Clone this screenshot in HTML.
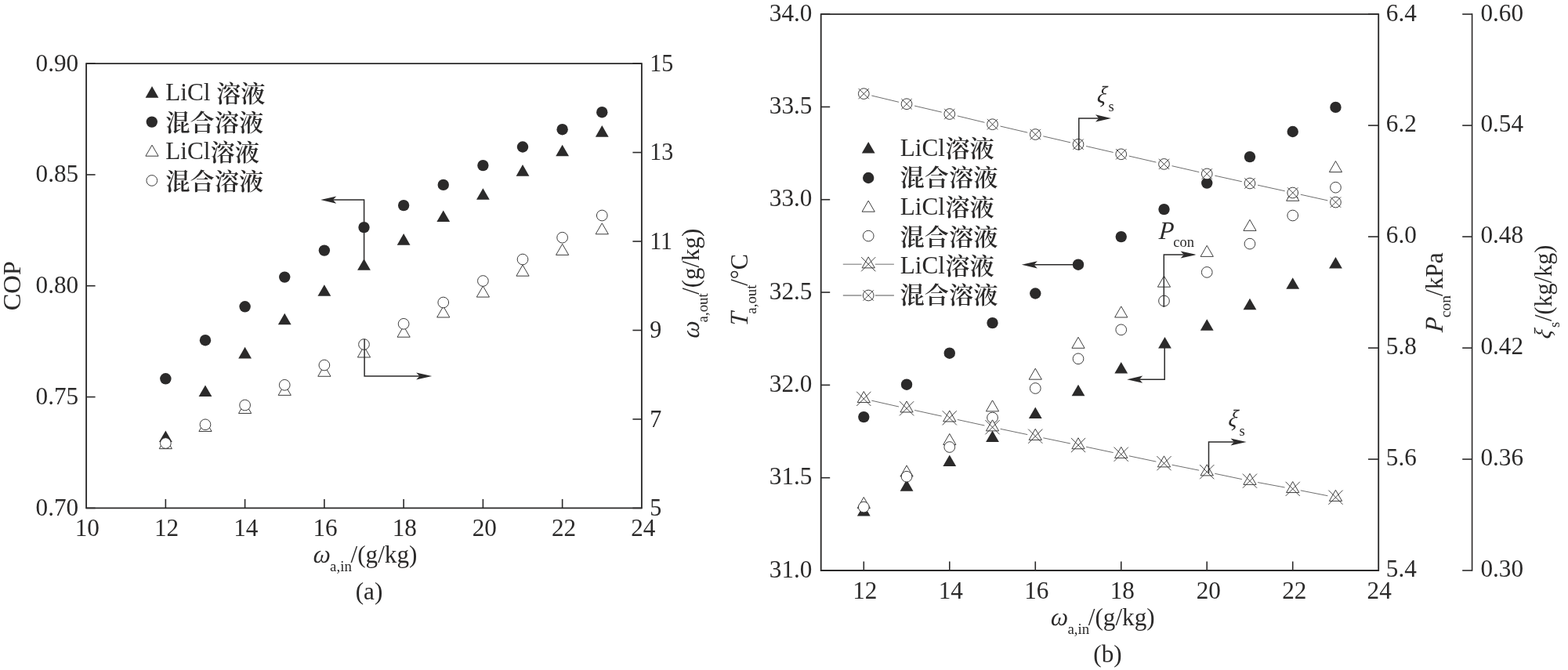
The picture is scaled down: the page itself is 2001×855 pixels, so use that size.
<!DOCTYPE html>
<html lang="zh-CN">
<head>
<meta charset="utf-8">
<title>COP and outlet parameters versus inlet air humidity</title>
<style>
html,body{margin:0;padding:0;background:#fff;}
body{width:2001px;height:855px;overflow:hidden;}
svg{display:block;}
text{fill:#2b2a2a;}
</style>
</head>
<body>
<svg width="2001" height="855" viewBox="0 0 2001 855">
<rect x="0" y="0" width="2001" height="855" fill="#ffffff"/>
<path d="M110.1 81.1H818.9V648.4H110.1Z" fill="none" stroke="#2b2a2a" stroke-width="1.85" stroke-linejoin="miter"/>
<line x1="211.36" y1="648.40" x2="211.36" y2="636.90" stroke="#2b2a2a" stroke-width="1.6" />
<line x1="312.61" y1="648.40" x2="312.61" y2="636.90" stroke="#2b2a2a" stroke-width="1.6" />
<line x1="413.87" y1="648.40" x2="413.87" y2="636.90" stroke="#2b2a2a" stroke-width="1.6" />
<line x1="515.13" y1="648.40" x2="515.13" y2="636.90" stroke="#2b2a2a" stroke-width="1.6" />
<line x1="616.39" y1="648.40" x2="616.39" y2="636.90" stroke="#2b2a2a" stroke-width="1.6" />
<line x1="717.64" y1="648.40" x2="717.64" y2="636.90" stroke="#2b2a2a" stroke-width="1.6" />
<line x1="110.10" y1="648.40" x2="121.60" y2="648.40" stroke="#2b2a2a" stroke-width="1.6" />
<text transform="translate(100.20 657.80) scale(0.96 1)" font-size="32.5" text-anchor="end" font-family='"Liberation Serif", serif' >0.70</text>
<line x1="110.10" y1="506.57" x2="121.60" y2="506.57" stroke="#2b2a2a" stroke-width="1.6" />
<text transform="translate(100.20 515.98) scale(0.96 1)" font-size="32.5" text-anchor="end" font-family='"Liberation Serif", serif' >0.75</text>
<line x1="110.10" y1="364.75" x2="121.60" y2="364.75" stroke="#2b2a2a" stroke-width="1.6" />
<text transform="translate(100.20 374.15) scale(0.96 1)" font-size="32.5" text-anchor="end" font-family='"Liberation Serif", serif' >0.80</text>
<line x1="110.10" y1="222.93" x2="121.60" y2="222.93" stroke="#2b2a2a" stroke-width="1.6" />
<text transform="translate(100.20 232.33) scale(0.96 1)" font-size="32.5" text-anchor="end" font-family='"Liberation Serif", serif' >0.85</text>
<line x1="110.10" y1="81.10" x2="121.60" y2="81.10" stroke="#2b2a2a" stroke-width="1.6" />
<text transform="translate(100.20 90.50) scale(0.96 1)" font-size="32.5" text-anchor="end" font-family='"Liberation Serif", serif' >0.90</text>
<line x1="818.90" y1="648.40" x2="807.40" y2="648.40" stroke="#2b2a2a" stroke-width="1.6" />
<text transform="translate(829.20 658.20) scale(0.925 1)" font-size="32.5" text-anchor="start" font-family='"Liberation Serif", serif' >5</text>
<line x1="818.90" y1="534.94" x2="807.40" y2="534.94" stroke="#2b2a2a" stroke-width="1.6" />
<text transform="translate(829.20 544.74) scale(0.925 1)" font-size="32.5" text-anchor="start" font-family='"Liberation Serif", serif' >7</text>
<line x1="818.90" y1="421.48" x2="807.40" y2="421.48" stroke="#2b2a2a" stroke-width="1.6" />
<text transform="translate(829.20 431.28) scale(0.925 1)" font-size="32.5" text-anchor="start" font-family='"Liberation Serif", serif' >9</text>
<line x1="818.90" y1="308.02" x2="807.40" y2="308.02" stroke="#2b2a2a" stroke-width="1.6" />
<text transform="translate(829.20 317.82) scale(0.925 1)" font-size="32.5" text-anchor="start" font-family='"Liberation Serif", serif' >11</text>
<line x1="818.90" y1="194.56" x2="807.40" y2="194.56" stroke="#2b2a2a" stroke-width="1.6" />
<text transform="translate(829.20 204.36) scale(0.925 1)" font-size="32.5" text-anchor="start" font-family='"Liberation Serif", serif' >13</text>
<line x1="818.90" y1="81.10" x2="807.40" y2="81.10" stroke="#2b2a2a" stroke-width="1.6" />
<text transform="translate(829.20 90.90) scale(0.925 1)" font-size="32.5" text-anchor="start" font-family='"Liberation Serif", serif' >15</text>
<text transform="translate(111.30 684.20) scale(0.96 1)" font-size="32.5" text-anchor="middle" font-family='"Liberation Serif", serif' >10</text>
<text transform="translate(212.56 684.20) scale(0.96 1)" font-size="32.5" text-anchor="middle" font-family='"Liberation Serif", serif' >12</text>
<text transform="translate(313.81 684.20) scale(0.96 1)" font-size="32.5" text-anchor="middle" font-family='"Liberation Serif", serif' >14</text>
<text transform="translate(415.07 684.20) scale(0.96 1)" font-size="32.5" text-anchor="middle" font-family='"Liberation Serif", serif' >16</text>
<text transform="translate(516.33 684.20) scale(0.96 1)" font-size="32.5" text-anchor="middle" font-family='"Liberation Serif", serif' >18</text>
<text transform="translate(618.29 684.20) scale(0.96 1)" font-size="32.5" text-anchor="middle" font-family='"Liberation Serif", serif' >20</text>
<text transform="translate(719.54 684.20) scale(0.96 1)" font-size="32.5" text-anchor="middle" font-family='"Liberation Serif", serif' >22</text>
<text transform="translate(820.80 684.20) scale(0.96 1)" font-size="32.5" text-anchor="middle" font-family='"Liberation Serif", serif' >24</text>
<text transform="translate(26.40 364.70) rotate(-90)" font-size="32.5" text-anchor="middle" font-family='"Liberation Serif", serif' >COP</text>
<text transform="translate(399.20 718.00) skewX(-4) scale(0.96 1)" font-size="32.5" text-anchor="start" font-style="italic" font-family='"Liberation Serif", serif' >ω</text>
<text transform="translate(421.10 728.70) scale(1.02 1)" font-size="18.5" text-anchor="start" font-family='"Liberation Serif", serif' >a,in</text>
<text transform="translate(447.50 718.00) scale(0.96 1)" font-size="32.5" text-anchor="start" font-family='"Liberation Serif", serif' >/(g/kg)</text>
<text transform="translate(471.00 764.80) scale(0.96 1)" font-size="32.5" text-anchor="middle" font-family='"Liberation Serif", serif' >(a)</text>
<g transform="translate(892.1 432) rotate(-90)">
<text transform="translate(0.00 0.00) skewX(-4) scale(0.96 1)" font-size="32.5" text-anchor="start" font-style="italic" font-family='"Liberation Serif", serif' >ω</text>
<text transform="translate(20.60 11.30) scale(1.02 1)" font-size="18.5" text-anchor="start" font-family='"Liberation Serif", serif' >a,out</text>
<text transform="translate(56.20 0.00) scale(0.95 1)" font-size="32.5" text-anchor="start" font-family='"Liberation Serif", serif' >/(g/kg)</text>
</g>
<polygon points="211.36,549.45 219.76,564.00 202.96,564.00" fill="#2b2a2a"/>
<polygon points="261.99,491.50 270.39,506.05 253.59,506.05" fill="#2b2a2a"/>
<polygon points="312.61,442.85 321.01,457.40 304.21,457.40" fill="#2b2a2a"/>
<polygon points="363.24,399.65 371.64,414.20 354.84,414.20" fill="#2b2a2a"/>
<polygon points="413.87,363.30 422.27,377.85 405.47,377.85" fill="#2b2a2a"/>
<polygon points="464.50,330.15 472.90,344.70 456.10,344.70" fill="#2b2a2a"/>
<polygon points="515.13,298.10 523.53,312.65 506.73,312.65" fill="#2b2a2a"/>
<polygon points="565.76,268.40 574.16,282.95 557.36,282.95" fill="#2b2a2a"/>
<polygon points="616.39,240.25 624.79,254.80 607.99,254.80" fill="#2b2a2a"/>
<polygon points="667.01,210.10 675.41,224.65 658.61,224.65" fill="#2b2a2a"/>
<polygon points="717.64,184.70 726.04,199.25 709.24,199.25" fill="#2b2a2a"/>
<polygon points="768.27,160.10 776.67,174.65 759.87,174.65" fill="#2b2a2a"/>
<circle cx="211.36" cy="483.30" r="7.2" fill="#2b2a2a"/>
<circle cx="261.99" cy="434.20" r="7.2" fill="#2b2a2a"/>
<circle cx="312.61" cy="391.30" r="7.2" fill="#2b2a2a"/>
<circle cx="363.24" cy="353.60" r="7.2" fill="#2b2a2a"/>
<circle cx="413.87" cy="319.60" r="7.2" fill="#2b2a2a"/>
<circle cx="464.50" cy="290.10" r="7.2" fill="#2b2a2a"/>
<circle cx="515.13" cy="262.10" r="7.2" fill="#2b2a2a"/>
<circle cx="565.76" cy="235.90" r="7.2" fill="#2b2a2a"/>
<circle cx="616.39" cy="211.10" r="7.2" fill="#2b2a2a"/>
<circle cx="667.01" cy="187.50" r="7.2" fill="#2b2a2a"/>
<circle cx="717.64" cy="165.20" r="7.2" fill="#2b2a2a"/>
<circle cx="768.27" cy="143.20" r="7.2" fill="#2b2a2a"/>
<polygon points="211.36,558.65 219.45,572.67 203.26,572.67" fill="#fff" stroke="#333333" stroke-width="0.95" stroke-linejoin="miter"/>
<polygon points="261.99,536.45 270.08,550.47 253.89,550.47" fill="#fff" stroke="#333333" stroke-width="0.95" stroke-linejoin="miter"/>
<polygon points="312.61,513.45 320.71,527.47 304.52,527.47" fill="#fff" stroke="#333333" stroke-width="0.95" stroke-linejoin="miter"/>
<polygon points="363.24,490.35 371.34,504.38 355.15,504.38" fill="#fff" stroke="#333333" stroke-width="0.95" stroke-linejoin="miter"/>
<polygon points="413.87,466.25 421.97,480.28 405.77,480.28" fill="#fff" stroke="#333333" stroke-width="0.95" stroke-linejoin="miter"/>
<polygon points="464.50,441.95 472.60,455.98 456.40,455.98" fill="#fff" stroke="#333333" stroke-width="0.95" stroke-linejoin="miter"/>
<polygon points="515.13,416.15 523.23,430.18 507.03,430.18" fill="#fff" stroke="#333333" stroke-width="0.95" stroke-linejoin="miter"/>
<polygon points="565.76,390.95 573.85,404.98 557.66,404.98" fill="#fff" stroke="#333333" stroke-width="0.95" stroke-linejoin="miter"/>
<polygon points="616.39,365.05 624.48,379.07 608.29,379.07" fill="#fff" stroke="#333333" stroke-width="0.95" stroke-linejoin="miter"/>
<polygon points="667.01,338.15 675.11,352.18 658.92,352.18" fill="#fff" stroke="#333333" stroke-width="0.95" stroke-linejoin="miter"/>
<polygon points="717.64,311.35 725.74,325.38 709.55,325.38" fill="#fff" stroke="#333333" stroke-width="0.95" stroke-linejoin="miter"/>
<polygon points="768.27,284.75 776.37,298.78 760.17,298.78" fill="#fff" stroke="#333333" stroke-width="0.95" stroke-linejoin="miter"/>
<circle cx="211.36" cy="565.50" r="6.85" fill="#fff" stroke="#333333" stroke-width="0.95"/>
<circle cx="261.99" cy="541.80" r="6.85" fill="#fff" stroke="#333333" stroke-width="0.95"/>
<circle cx="312.61" cy="517.00" r="6.85" fill="#fff" stroke="#333333" stroke-width="0.95"/>
<circle cx="363.24" cy="491.30" r="6.85" fill="#fff" stroke="#333333" stroke-width="0.95"/>
<circle cx="413.87" cy="466.00" r="6.85" fill="#fff" stroke="#333333" stroke-width="0.95"/>
<circle cx="464.50" cy="439.50" r="6.85" fill="#fff" stroke="#333333" stroke-width="0.95"/>
<circle cx="515.13" cy="413.30" r="6.85" fill="#fff" stroke="#333333" stroke-width="0.95"/>
<circle cx="565.76" cy="386.00" r="6.85" fill="#fff" stroke="#333333" stroke-width="0.95"/>
<circle cx="616.39" cy="358.50" r="6.85" fill="#fff" stroke="#333333" stroke-width="0.95"/>
<circle cx="667.01" cy="331.00" r="6.85" fill="#fff" stroke="#333333" stroke-width="0.95"/>
<circle cx="717.64" cy="303.20" r="6.85" fill="#fff" stroke="#333333" stroke-width="0.95"/>
<circle cx="768.27" cy="275.00" r="6.85" fill="#fff" stroke="#333333" stroke-width="0.95"/>
<polyline points="464.60,339.85 464.60,255.10 425.00,255.10" fill="none" stroke="#2b2a2a" stroke-width="1.5" stroke-linejoin="miter"/>
<polygon points="409.20,255.10 429.20,250.50 425.00,255.10 429.20,259.70" fill="#2b2a2a"/>
<polyline points="465.10,432.70 465.10,480.00 535.40,480.00" fill="none" stroke="#2b2a2a" stroke-width="1.5" stroke-linejoin="miter"/>
<polygon points="551.20,480.00 531.20,484.60 535.40,480.00 531.20,475.40" fill="#2b2a2a"/>
<polygon points="194.00,110.10 202.40,124.65 185.60,124.65" fill="#2b2a2a"/>
<text transform="translate(211.20 128.00) scale(0.96 1)" font-size="32.5" text-anchor="start" font-family='"Liberation Serif", serif' >LiCl</text>
<text transform="translate(276.00 129.60) scale(1.042 1)" font-size="30" text-anchor="start" font-weight="600" font-family='"Liberation Serif", "Noto Serif CJK SC", serif' >溶液</text>
<circle cx="193.80" cy="155.60" r="7.2" fill="#2b2a2a"/>
<text transform="translate(211.20 167.30) scale(1.042 1)" font-size="30" text-anchor="start" font-weight="600" font-family='"Liberation Serif", "Noto Serif CJK SC", serif' >混合溶液</text>
<polygon points="194.00,185.15 202.10,199.18 185.90,199.18" fill="#fff" stroke="#333333" stroke-width="0.95" stroke-linejoin="miter"/>
<text transform="translate(211.20 202.70) scale(0.96 1)" font-size="32.5" text-anchor="start" font-family='"Liberation Serif", serif' >LiCl</text>
<text transform="translate(268.60 204.60) scale(1.042 1)" font-size="30" text-anchor="start" font-weight="600" font-family='"Liberation Serif", "Noto Serif CJK SC", serif' >溶液</text>
<circle cx="193.80" cy="230.40" r="6.85" fill="#fff" stroke="#333333" stroke-width="0.95"/>
<text transform="translate(211.20 242.30) scale(1.042 1)" font-size="30" text-anchor="start" font-weight="600" font-family='"Liberation Serif", "Noto Serif CJK SC", serif' >混合溶液</text>
<path d="M1047.7 18.1H1759.2V728.0H1047.7Z" fill="none" stroke="#2b2a2a" stroke-width="1.85" stroke-linejoin="miter"/>
<line x1="1878.60" y1="17.30" x2="1878.60" y2="728.80" stroke="#2b2a2a" stroke-width="1.6" />
<line x1="1102.30" y1="728.00" x2="1102.30" y2="716.50" stroke="#2b2a2a" stroke-width="1.6" />
<text transform="translate(1103.80 763.90) scale(0.96 1)" font-size="32.5" text-anchor="middle" font-family='"Liberation Serif", serif' >12</text>
<line x1="1211.78" y1="728.00" x2="1211.78" y2="716.50" stroke="#2b2a2a" stroke-width="1.6" />
<text transform="translate(1213.28 763.90) scale(0.96 1)" font-size="32.5" text-anchor="middle" font-family='"Liberation Serif", serif' >14</text>
<line x1="1321.27" y1="728.00" x2="1321.27" y2="716.50" stroke="#2b2a2a" stroke-width="1.6" />
<text transform="translate(1322.77 763.90) scale(0.96 1)" font-size="32.5" text-anchor="middle" font-family='"Liberation Serif", serif' >16</text>
<line x1="1430.75" y1="728.00" x2="1430.75" y2="716.50" stroke="#2b2a2a" stroke-width="1.6" />
<text transform="translate(1432.25 763.90) scale(0.96 1)" font-size="32.5" text-anchor="middle" font-family='"Liberation Serif", serif' >18</text>
<line x1="1540.23" y1="728.00" x2="1540.23" y2="716.50" stroke="#2b2a2a" stroke-width="1.6" />
<text transform="translate(1542.23 763.90) scale(0.96 1)" font-size="32.5" text-anchor="middle" font-family='"Liberation Serif", serif' >20</text>
<line x1="1649.72" y1="728.00" x2="1649.72" y2="716.50" stroke="#2b2a2a" stroke-width="1.6" />
<text transform="translate(1651.72 763.90) scale(0.96 1)" font-size="32.5" text-anchor="middle" font-family='"Liberation Serif", serif' >22</text>
<text transform="translate(1760.20 763.90) scale(0.96 1)" font-size="32.5" text-anchor="middle" font-family='"Liberation Serif", serif' >24</text>
<line x1="1047.70" y1="728.00" x2="1059.20" y2="728.00" stroke="#2b2a2a" stroke-width="1.6" />
<text transform="translate(1036.40 736.60) scale(0.96 1)" font-size="32.5" text-anchor="end" font-family='"Liberation Serif", serif' >31.0</text>
<line x1="1047.70" y1="609.68" x2="1059.20" y2="609.68" stroke="#2b2a2a" stroke-width="1.6" />
<text transform="translate(1036.40 618.28) scale(0.96 1)" font-size="32.5" text-anchor="end" font-family='"Liberation Serif", serif' >31.5</text>
<line x1="1047.70" y1="491.37" x2="1059.20" y2="491.37" stroke="#2b2a2a" stroke-width="1.6" />
<text transform="translate(1036.40 499.97) scale(0.96 1)" font-size="32.5" text-anchor="end" font-family='"Liberation Serif", serif' >32.0</text>
<line x1="1047.70" y1="373.05" x2="1059.20" y2="373.05" stroke="#2b2a2a" stroke-width="1.6" />
<text transform="translate(1036.40 381.65) scale(0.96 1)" font-size="32.5" text-anchor="end" font-family='"Liberation Serif", serif' >32.5</text>
<line x1="1047.70" y1="254.73" x2="1059.20" y2="254.73" stroke="#2b2a2a" stroke-width="1.6" />
<text transform="translate(1036.40 263.33) scale(0.96 1)" font-size="32.5" text-anchor="end" font-family='"Liberation Serif", serif' >33.0</text>
<line x1="1047.70" y1="136.42" x2="1059.20" y2="136.42" stroke="#2b2a2a" stroke-width="1.6" />
<text transform="translate(1036.40 145.02) scale(0.96 1)" font-size="32.5" text-anchor="end" font-family='"Liberation Serif", serif' >33.5</text>
<line x1="1047.70" y1="18.10" x2="1059.20" y2="18.10" stroke="#2b2a2a" stroke-width="1.6" />
<text transform="translate(1036.40 26.70) scale(0.96 1)" font-size="32.5" text-anchor="end" font-family='"Liberation Serif", serif' >34.0</text>
<line x1="1759.20" y1="728.00" x2="1746.00" y2="728.00" stroke="#2b2a2a" stroke-width="1.6" />
<text transform="translate(1768.80 736.40) scale(0.96 1)" font-size="32.5" text-anchor="start" font-family='"Liberation Serif", serif' >5.4</text>
<line x1="1878.60" y1="728.00" x2="1866.20" y2="728.00" stroke="#2b2a2a" stroke-width="1.6" />
<text transform="translate(1889.40 736.40) scale(0.96 1)" font-size="32.5" text-anchor="start" font-family='"Liberation Serif", serif' >0.30</text>
<line x1="1759.20" y1="586.02" x2="1746.00" y2="586.02" stroke="#2b2a2a" stroke-width="1.6" />
<text transform="translate(1768.80 594.42) scale(0.96 1)" font-size="32.5" text-anchor="start" font-family='"Liberation Serif", serif' >5.6</text>
<line x1="1878.60" y1="586.02" x2="1866.20" y2="586.02" stroke="#2b2a2a" stroke-width="1.6" />
<text transform="translate(1889.40 594.42) scale(0.96 1)" font-size="32.5" text-anchor="start" font-family='"Liberation Serif", serif' >0.36</text>
<line x1="1759.20" y1="444.04" x2="1746.00" y2="444.04" stroke="#2b2a2a" stroke-width="1.6" />
<text transform="translate(1768.80 452.44) scale(0.96 1)" font-size="32.5" text-anchor="start" font-family='"Liberation Serif", serif' >5.8</text>
<line x1="1878.60" y1="444.04" x2="1866.20" y2="444.04" stroke="#2b2a2a" stroke-width="1.6" />
<text transform="translate(1889.40 452.44) scale(0.96 1)" font-size="32.5" text-anchor="start" font-family='"Liberation Serif", serif' >0.42</text>
<line x1="1759.20" y1="302.06" x2="1746.00" y2="302.06" stroke="#2b2a2a" stroke-width="1.6" />
<text transform="translate(1768.80 310.46) scale(0.96 1)" font-size="32.5" text-anchor="start" font-family='"Liberation Serif", serif' >6.0</text>
<line x1="1878.60" y1="302.06" x2="1866.20" y2="302.06" stroke="#2b2a2a" stroke-width="1.6" />
<text transform="translate(1889.40 310.46) scale(0.96 1)" font-size="32.5" text-anchor="start" font-family='"Liberation Serif", serif' >0.48</text>
<line x1="1759.20" y1="160.08" x2="1746.00" y2="160.08" stroke="#2b2a2a" stroke-width="1.6" />
<text transform="translate(1768.80 168.48) scale(0.96 1)" font-size="32.5" text-anchor="start" font-family='"Liberation Serif", serif' >6.2</text>
<line x1="1878.60" y1="160.08" x2="1866.20" y2="160.08" stroke="#2b2a2a" stroke-width="1.6" />
<text transform="translate(1889.40 168.48) scale(0.96 1)" font-size="32.5" text-anchor="start" font-family='"Liberation Serif", serif' >0.54</text>
<line x1="1759.20" y1="18.10" x2="1746.00" y2="18.10" stroke="#2b2a2a" stroke-width="1.6" />
<text transform="translate(1768.80 26.50) scale(0.96 1)" font-size="32.5" text-anchor="start" font-family='"Liberation Serif", serif' >6.4</text>
<line x1="1878.60" y1="18.10" x2="1866.20" y2="18.10" stroke="#2b2a2a" stroke-width="1.6" />
<text transform="translate(1889.40 26.50) scale(0.96 1)" font-size="32.5" text-anchor="start" font-family='"Liberation Serif", serif' >0.60</text>
<text transform="translate(1340.50 798.00) skewX(-4) scale(0.96 1)" font-size="32.5" text-anchor="start" font-style="italic" font-family='"Liberation Serif", serif' >ω</text>
<text transform="translate(1362.40 808.70) scale(1.02 1)" font-size="18.5" text-anchor="start" font-family='"Liberation Serif", serif' >a,in</text>
<text transform="translate(1388.80 798.00) scale(0.96 1)" font-size="32.5" text-anchor="start" font-family='"Liberation Serif", serif' >/(g/kg)</text>
<text transform="translate(1413.50 845.00) scale(0.96 1)" font-size="32.5" text-anchor="middle" font-family='"Liberation Serif", serif' >(b)</text>
<g transform="translate(953.7 416.5) rotate(-90)">
<text transform="translate(0.00 0.00) skewX(-4) scale(0.96 1)" font-size="32.5" text-anchor="start" font-style="italic" font-family='"Liberation Serif", serif' >T</text>
<text transform="translate(15.80 11.30) scale(1.02 1)" font-size="18.5" text-anchor="start" font-family='"Liberation Serif", serif' >a,out</text>
<text transform="translate(51.80 0.00) scale(0.93 1)" font-size="32.5" text-anchor="start" font-family='"Liberation Serif", serif' >/°C</text>
</g>
<g transform="translate(1840.9 424.3) rotate(-90)">
<text transform="translate(0.00 0.00) skewX(-4) scale(0.96 1)" font-size="32.5" text-anchor="start" font-style="italic" font-family='"Liberation Serif", serif' >P</text>
<text transform="translate(19.00 10.30) scale(1.06 1)" font-size="18.5" text-anchor="start" font-family='"Liberation Serif", serif' >con</text>
<text transform="translate(46.40 0.00) scale(0.96 1)" font-size="32.5" text-anchor="start" font-family='"Liberation Serif", serif' >/kPa</text>
</g>
<g transform="translate(1979.8 432.5) rotate(-90)">
<text transform="translate(-0.80 -0.40) skewX(-10) scale(0.9 1)" font-size="30.5" text-anchor="start" font-style="italic" font-family='"Liberation Serif", serif' >ξ</text>
<text transform="translate(14.50 10.30)" font-size="18.5" text-anchor="start" font-family='"Liberation Serif", serif' >s</text>
<text transform="translate(22.50 0.00) scale(0.93 1)" font-size="32.5" text-anchor="start" font-family='"Liberation Serif", serif' >/(kg/kg)</text>
</g>
<line x1="1112.32" y1="122.00" x2="1147.02" y2="130.30" stroke="#6e6e6e" stroke-width="1.0" />
<line x1="1167.07" y1="135.05" x2="1201.75" y2="143.15" stroke="#6e6e6e" stroke-width="1.0" />
<line x1="1221.80" y1="147.91" x2="1256.51" y2="156.29" stroke="#6e6e6e" stroke-width="1.0" />
<line x1="1276.55" y1="161.05" x2="1311.24" y2="169.15" stroke="#6e6e6e" stroke-width="1.0" />
<line x1="1331.30" y1="173.83" x2="1365.97" y2="181.87" stroke="#6e6e6e" stroke-width="1.0" />
<line x1="1386.05" y1="186.51" x2="1420.71" y2="194.49" stroke="#6e6e6e" stroke-width="1.0" />
<line x1="1440.79" y1="199.11" x2="1475.45" y2="207.09" stroke="#6e6e6e" stroke-width="1.0" />
<line x1="1495.53" y1="211.69" x2="1530.19" y2="219.61" stroke="#6e6e6e" stroke-width="1.0" />
<line x1="1550.29" y1="224.12" x2="1584.92" y2="231.78" stroke="#6e6e6e" stroke-width="1.0" />
<line x1="1605.04" y1="236.21" x2="1639.66" y2="243.79" stroke="#6e6e6e" stroke-width="1.0" />
<line x1="1659.77" y1="248.22" x2="1694.40" y2="255.88" stroke="#6e6e6e" stroke-width="1.0" />
<line x1="1112.35" y1="511.18" x2="1147.00" y2="519.02" stroke="#6e6e6e" stroke-width="1.0" />
<line x1="1167.10" y1="523.51" x2="1201.72" y2="531.09" stroke="#6e6e6e" stroke-width="1.0" />
<line x1="1221.85" y1="535.49" x2="1256.46" y2="543.01" stroke="#6e6e6e" stroke-width="1.0" />
<line x1="1276.60" y1="547.32" x2="1311.19" y2="554.58" stroke="#6e6e6e" stroke-width="1.0" />
<line x1="1331.35" y1="558.80" x2="1365.92" y2="566.00" stroke="#6e6e6e" stroke-width="1.0" />
<line x1="1386.08" y1="570.24" x2="1420.67" y2="577.56" stroke="#6e6e6e" stroke-width="1.0" />
<line x1="1440.83" y1="581.82" x2="1475.41" y2="589.08" stroke="#6e6e6e" stroke-width="1.0" />
<line x1="1495.59" y1="593.23" x2="1530.14" y2="600.17" stroke="#6e6e6e" stroke-width="1.0" />
<line x1="1550.31" y1="604.32" x2="1584.90" y2="611.58" stroke="#6e6e6e" stroke-width="1.0" />
<line x1="1605.10" y1="615.59" x2="1639.59" y2="622.01" stroke="#6e6e6e" stroke-width="1.0" />
<line x1="1659.82" y1="625.89" x2="1694.35" y2="632.71" stroke="#6e6e6e" stroke-width="1.0" />
<polygon points="1102.30,643.90 1110.70,658.45 1093.90,658.45" fill="#2b2a2a"/>
<polygon points="1157.04,612.10 1165.44,626.65 1148.64,626.65" fill="#2b2a2a"/>
<polygon points="1211.78,580.40 1220.18,594.95 1203.38,594.95" fill="#2b2a2a"/>
<polygon points="1266.53,549.50 1274.93,564.05 1258.12,564.05" fill="#2b2a2a"/>
<polygon points="1321.27,519.40 1329.67,533.95 1312.87,533.95" fill="#2b2a2a"/>
<polygon points="1376.01,490.80 1384.41,505.35 1367.61,505.35" fill="#2b2a2a"/>
<polygon points="1430.75,461.90 1439.15,476.45 1422.35,476.45" fill="#2b2a2a"/>
<polygon points="1486.49,430.00 1494.89,444.55 1478.09,444.55" fill="#2b2a2a"/>
<polygon points="1540.23,407.20 1548.63,421.75 1531.83,421.75" fill="#2b2a2a"/>
<polygon points="1594.97,380.70 1603.38,395.25 1586.57,395.25" fill="#2b2a2a"/>
<polygon points="1649.72,354.20 1658.12,368.75 1641.32,368.75" fill="#2b2a2a"/>
<polygon points="1704.46,328.00 1712.86,342.55 1696.06,342.55" fill="#2b2a2a"/>
<circle cx="1102.30" cy="532.10" r="7.2" fill="#2b2a2a"/>
<circle cx="1157.04" cy="490.70" r="7.2" fill="#2b2a2a"/>
<circle cx="1211.78" cy="450.70" r="7.2" fill="#2b2a2a"/>
<circle cx="1266.53" cy="412.10" r="7.2" fill="#2b2a2a"/>
<circle cx="1321.27" cy="374.50" r="7.2" fill="#2b2a2a"/>
<circle cx="1376.01" cy="337.70" r="7.2" fill="#2b2a2a"/>
<circle cx="1430.75" cy="302.10" r="7.2" fill="#2b2a2a"/>
<circle cx="1485.49" cy="267.10" r="7.2" fill="#2b2a2a"/>
<circle cx="1540.23" cy="233.60" r="7.2" fill="#2b2a2a"/>
<circle cx="1594.97" cy="200.10" r="7.2" fill="#2b2a2a"/>
<circle cx="1649.72" cy="168.00" r="7.2" fill="#2b2a2a"/>
<circle cx="1704.46" cy="136.90" r="7.2" fill="#2b2a2a"/>
<polygon points="1102.30,634.45 1110.40,648.47 1094.20,648.47" fill="#fff" stroke="#333333" stroke-width="0.95" stroke-linejoin="miter"/>
<polygon points="1157.04,593.95 1165.14,607.97 1148.94,607.97" fill="#fff" stroke="#333333" stroke-width="0.95" stroke-linejoin="miter"/>
<polygon points="1211.78,553.45 1219.88,567.47 1203.69,567.47" fill="#fff" stroke="#333333" stroke-width="0.95" stroke-linejoin="miter"/>
<polygon points="1266.53,510.85 1274.62,524.88 1258.43,524.88" fill="#fff" stroke="#333333" stroke-width="0.95" stroke-linejoin="miter"/>
<polygon points="1321.27,470.15 1329.36,484.18 1313.17,484.18" fill="#fff" stroke="#333333" stroke-width="0.95" stroke-linejoin="miter"/>
<polygon points="1376.01,430.25 1384.11,444.28 1367.91,444.28" fill="#fff" stroke="#333333" stroke-width="0.95" stroke-linejoin="miter"/>
<polygon points="1430.75,390.95 1438.85,404.98 1422.65,404.98" fill="#fff" stroke="#333333" stroke-width="0.95" stroke-linejoin="miter"/>
<polygon points="1485.49,352.15 1493.59,366.18 1477.39,366.18" fill="#fff" stroke="#333333" stroke-width="0.95" stroke-linejoin="miter"/>
<polygon points="1540.23,313.35 1548.33,327.38 1532.14,327.38" fill="#fff" stroke="#333333" stroke-width="0.95" stroke-linejoin="miter"/>
<polygon points="1594.97,280.35 1603.07,294.38 1586.88,294.38" fill="#fff" stroke="#333333" stroke-width="0.95" stroke-linejoin="miter"/>
<polygon points="1649.72,242.25 1657.81,256.27 1641.62,256.27" fill="#fff" stroke="#333333" stroke-width="0.95" stroke-linejoin="miter"/>
<polygon points="1704.46,205.55 1712.56,219.58 1696.36,219.58" fill="#fff" stroke="#333333" stroke-width="0.95" stroke-linejoin="miter"/>
<circle cx="1102.30" cy="647.10" r="6.85" fill="#fff" stroke="#333333" stroke-width="0.95"/>
<circle cx="1157.04" cy="608.20" r="6.85" fill="#fff" stroke="#333333" stroke-width="0.95"/>
<circle cx="1211.78" cy="570.50" r="6.85" fill="#fff" stroke="#333333" stroke-width="0.95"/>
<circle cx="1266.53" cy="533.00" r="6.85" fill="#fff" stroke="#333333" stroke-width="0.95"/>
<circle cx="1321.27" cy="495.50" r="6.85" fill="#fff" stroke="#333333" stroke-width="0.95"/>
<circle cx="1376.01" cy="457.80" r="6.85" fill="#fff" stroke="#333333" stroke-width="0.95"/>
<circle cx="1430.75" cy="420.80" r="6.85" fill="#fff" stroke="#333333" stroke-width="0.95"/>
<circle cx="1485.49" cy="384.00" r="6.85" fill="#fff" stroke="#333333" stroke-width="0.95"/>
<circle cx="1540.23" cy="347.40" r="6.85" fill="#fff" stroke="#333333" stroke-width="0.95"/>
<circle cx="1594.97" cy="311.10" r="6.85" fill="#fff" stroke="#333333" stroke-width="0.95"/>
<circle cx="1649.72" cy="275.00" r="6.85" fill="#fff" stroke="#333333" stroke-width="0.95"/>
<circle cx="1704.46" cy="239.20" r="6.85" fill="#fff" stroke="#333333" stroke-width="0.95"/>
<polygon points="1102.30,499.55 1110.40,513.57 1094.20,513.57" fill="#fff" stroke="#333333" stroke-width="0.95" stroke-linejoin="miter"/>
<path d="M1093.20 499.80L1111.40 518.00M1093.20 518.00L1111.40 499.80" stroke="#333333" stroke-width="0.9" fill="none"/>
<polygon points="1157.04,511.95 1165.14,525.97 1148.94,525.97" fill="#fff" stroke="#333333" stroke-width="0.95" stroke-linejoin="miter"/>
<path d="M1147.94 512.20L1166.14 530.40M1147.94 530.40L1166.14 512.20" stroke="#333333" stroke-width="0.9" fill="none"/>
<polygon points="1211.78,523.95 1219.88,537.97 1203.69,537.97" fill="#fff" stroke="#333333" stroke-width="0.95" stroke-linejoin="miter"/>
<path d="M1202.68 524.20L1220.88 542.40M1202.68 542.40L1220.88 524.20" stroke="#333333" stroke-width="0.9" fill="none"/>
<polygon points="1266.53,535.85 1274.62,549.88 1258.43,549.88" fill="#fff" stroke="#333333" stroke-width="0.95" stroke-linejoin="miter"/>
<path d="M1257.43 536.10L1275.62 554.30M1257.43 554.30L1275.62 536.10" stroke="#333333" stroke-width="0.9" fill="none"/>
<polygon points="1321.27,547.35 1329.36,561.38 1313.17,561.38" fill="#fff" stroke="#333333" stroke-width="0.95" stroke-linejoin="miter"/>
<path d="M1312.17 547.60L1330.37 565.80M1312.17 565.80L1330.37 547.60" stroke="#333333" stroke-width="0.9" fill="none"/>
<polygon points="1376.01,558.75 1384.11,572.77 1367.91,572.77" fill="#fff" stroke="#333333" stroke-width="0.95" stroke-linejoin="miter"/>
<path d="M1366.91 559.00L1385.11 577.20M1366.91 577.20L1385.11 559.00" stroke="#333333" stroke-width="0.9" fill="none"/>
<polygon points="1430.75,570.35 1438.85,584.38 1422.65,584.38" fill="#fff" stroke="#333333" stroke-width="0.95" stroke-linejoin="miter"/>
<path d="M1421.65 570.60L1439.85 588.80M1421.65 588.80L1439.85 570.60" stroke="#333333" stroke-width="0.9" fill="none"/>
<polygon points="1485.49,581.85 1493.59,595.88 1477.39,595.88" fill="#fff" stroke="#333333" stroke-width="0.95" stroke-linejoin="miter"/>
<path d="M1476.39 582.10L1494.59 600.30M1476.39 600.30L1494.59 582.10" stroke="#333333" stroke-width="0.9" fill="none"/>
<polygon points="1540.23,592.85 1548.33,606.88 1532.14,606.88" fill="#fff" stroke="#333333" stroke-width="0.95" stroke-linejoin="miter"/>
<path d="M1531.13 593.10L1549.33 611.30M1531.13 611.30L1549.33 593.10" stroke="#333333" stroke-width="0.9" fill="none"/>
<polygon points="1594.97,604.35 1603.07,618.38 1586.88,618.38" fill="#fff" stroke="#333333" stroke-width="0.95" stroke-linejoin="miter"/>
<path d="M1585.88 604.60L1604.07 622.80M1585.88 622.80L1604.07 604.60" stroke="#333333" stroke-width="0.9" fill="none"/>
<polygon points="1649.72,614.55 1657.81,628.57 1641.62,628.57" fill="#fff" stroke="#333333" stroke-width="0.95" stroke-linejoin="miter"/>
<path d="M1640.62 614.80L1658.82 633.00M1640.62 633.00L1658.82 614.80" stroke="#333333" stroke-width="0.9" fill="none"/>
<polygon points="1704.46,625.35 1712.56,639.38 1696.36,639.38" fill="#fff" stroke="#333333" stroke-width="0.95" stroke-linejoin="miter"/>
<path d="M1695.36 625.60L1713.56 643.80M1695.36 643.80L1713.56 625.60" stroke="#333333" stroke-width="0.9" fill="none"/>
<circle cx="1102.30" cy="119.60" r="6.85" fill="#fff" stroke="#333333" stroke-width="0.95"/>
<path d="M1095.65 112.95L1108.95 126.25M1095.65 126.25L1108.95 112.95" stroke="#333333" stroke-width="0.9" fill="none"/>
<circle cx="1157.04" cy="132.70" r="6.85" fill="#fff" stroke="#333333" stroke-width="0.95"/>
<path d="M1150.39 126.05L1163.69 139.35M1150.39 139.35L1163.69 126.05" stroke="#333333" stroke-width="0.9" fill="none"/>
<circle cx="1211.78" cy="145.50" r="6.85" fill="#fff" stroke="#333333" stroke-width="0.95"/>
<path d="M1205.13 138.85L1218.43 152.15M1205.13 152.15L1218.43 138.85" stroke="#333333" stroke-width="0.9" fill="none"/>
<circle cx="1266.53" cy="158.70" r="6.85" fill="#fff" stroke="#333333" stroke-width="0.95"/>
<path d="M1259.88 152.05L1273.18 165.35M1259.88 165.35L1273.18 152.05" stroke="#333333" stroke-width="0.9" fill="none"/>
<circle cx="1321.27" cy="171.50" r="6.85" fill="#fff" stroke="#333333" stroke-width="0.95"/>
<path d="M1314.62 164.85L1327.92 178.15M1314.62 178.15L1327.92 164.85" stroke="#333333" stroke-width="0.9" fill="none"/>
<circle cx="1376.01" cy="184.20" r="6.85" fill="#fff" stroke="#333333" stroke-width="0.95"/>
<path d="M1369.36 177.55L1382.66 190.85M1369.36 190.85L1382.66 177.55" stroke="#333333" stroke-width="0.9" fill="none"/>
<circle cx="1430.75" cy="196.80" r="6.85" fill="#fff" stroke="#333333" stroke-width="0.95"/>
<path d="M1424.10 190.15L1437.40 203.45M1424.10 203.45L1437.40 190.15" stroke="#333333" stroke-width="0.9" fill="none"/>
<circle cx="1485.49" cy="209.40" r="6.85" fill="#fff" stroke="#333333" stroke-width="0.95"/>
<path d="M1478.84 202.75L1492.14 216.05M1478.84 216.05L1492.14 202.75" stroke="#333333" stroke-width="0.9" fill="none"/>
<circle cx="1540.23" cy="221.90" r="6.85" fill="#fff" stroke="#333333" stroke-width="0.95"/>
<path d="M1533.58 215.25L1546.88 228.55M1533.58 228.55L1546.88 215.25" stroke="#333333" stroke-width="0.9" fill="none"/>
<circle cx="1594.97" cy="234.00" r="6.85" fill="#fff" stroke="#333333" stroke-width="0.95"/>
<path d="M1588.32 227.35L1601.62 240.65M1588.32 240.65L1601.62 227.35" stroke="#333333" stroke-width="0.9" fill="none"/>
<circle cx="1649.72" cy="246.00" r="6.85" fill="#fff" stroke="#333333" stroke-width="0.95"/>
<path d="M1643.07 239.35L1656.37 252.65M1643.07 252.65L1656.37 239.35" stroke="#333333" stroke-width="0.9" fill="none"/>
<circle cx="1704.46" cy="258.10" r="6.85" fill="#fff" stroke="#333333" stroke-width="0.95"/>
<path d="M1697.81 251.45L1711.11 264.75M1697.81 264.75L1711.11 251.45" stroke="#333333" stroke-width="0.9" fill="none"/>
<polyline points="1376.80,191.40 1376.80,150.90 1402.20,150.90" fill="none" stroke="#2b2a2a" stroke-width="1.5" stroke-linejoin="miter"/>
<polygon points="1418.00,150.90 1398.00,155.50 1402.20,150.90 1398.00,146.30" fill="#2b2a2a"/>
<polyline points="1376.00,337.80 1319.60,337.80" fill="none" stroke="#2b2a2a" stroke-width="1.5" stroke-linejoin="miter"/>
<polygon points="1303.80,337.80 1323.80,333.20 1319.60,337.80 1323.80,342.40" fill="#2b2a2a"/>
<polyline points="1485.30,391.90 1485.30,325.00 1510.80,325.00" fill="none" stroke="#2b2a2a" stroke-width="1.5" stroke-linejoin="miter"/>
<polygon points="1526.60,325.00 1506.60,329.60 1510.80,325.00 1506.60,320.40" fill="#2b2a2a"/>
<polyline points="1486.20,440.00 1486.20,484.20 1454.00,484.20" fill="none" stroke="#2b2a2a" stroke-width="1.5" stroke-linejoin="miter"/>
<polygon points="1438.20,484.20 1458.20,479.60 1454.00,484.20 1458.20,488.80" fill="#2b2a2a"/>
<polyline points="1542.50,604.00 1542.50,564.00 1574.80,564.00" fill="none" stroke="#2b2a2a" stroke-width="1.5" stroke-linejoin="miter"/>
<polygon points="1590.60,564.00 1570.60,568.60 1574.80,564.00 1570.60,559.40" fill="#2b2a2a"/>
<text transform="translate(1398.90 130.60) skewX(-10) scale(0.9 1)" font-size="30.5" text-anchor="start" font-style="italic" font-family='"Liberation Serif", serif' >ξ</text>
<text transform="translate(1414.50 142.20)" font-size="18.5" text-anchor="start" font-family='"Liberation Serif", serif' >s</text>
<text transform="translate(1566.50 544.40) skewX(-10) scale(0.9 1)" font-size="30.5" text-anchor="start" font-style="italic" font-family='"Liberation Serif", serif' >ξ</text>
<text transform="translate(1581.60 556.40)" font-size="18.5" text-anchor="start" font-family='"Liberation Serif", serif' >s</text>
<text transform="translate(1478.50 304.90) skewX(-4) scale(0.96 1)" font-size="32.5" text-anchor="start" font-style="italic" font-family='"Liberation Serif", serif' >P</text>
<text transform="translate(1497.20 315.30)" font-size="18.5" text-anchor="start" font-family='"Liberation Serif", serif' >con</text>
<polygon points="1108.20,180.90 1116.60,195.45 1099.80,195.45" fill="#2b2a2a"/>
<circle cx="1108.20" cy="227.00" r="7.2" fill="#2b2a2a"/>
<polygon points="1108.20,256.15 1116.30,270.18 1100.10,270.18" fill="#fff" stroke="#333333" stroke-width="0.95" stroke-linejoin="miter"/>
<circle cx="1108.20" cy="301.10" r="6.85" fill="#fff" stroke="#333333" stroke-width="0.95"/>
<line x1="1075.80" y1="337.20" x2="1099.60" y2="337.20" stroke="#707070" stroke-width="1.0" />
<line x1="1116.90" y1="337.20" x2="1140.90" y2="337.20" stroke="#707070" stroke-width="1.0" />
<line x1="1075.80" y1="377.00" x2="1099.60" y2="377.00" stroke="#8c8c8c" stroke-width="1.5" />
<line x1="1116.90" y1="377.00" x2="1140.90" y2="377.00" stroke="#8c8c8c" stroke-width="1.5" />
<polygon points="1108.20,327.85 1116.30,341.88 1100.10,341.88" fill="#fff" stroke="#333333" stroke-width="0.95" stroke-linejoin="miter"/>
<path d="M1099.10 328.10L1117.30 346.30M1099.10 346.30L1117.30 328.10" stroke="#333333" stroke-width="0.9" fill="none"/>
<circle cx="1108.20" cy="377.00" r="6.85" fill="#fff" stroke="#333333" stroke-width="0.95"/>
<path d="M1101.55 370.35L1114.85 383.65M1101.55 383.65L1114.85 370.35" stroke="#333333" stroke-width="0.9" fill="none"/>
<text transform="translate(1148.70 198.90) scale(0.96 1)" font-size="32.5" text-anchor="start" font-family='"Liberation Serif", serif' >LiCl</text>
<text transform="translate(1206.30 199.80) scale(1.042 1)" font-size="30" text-anchor="start" font-weight="600" font-family='"Liberation Serif", "Noto Serif CJK SC", serif' >溶液</text>
<text transform="translate(1148.70 273.60) scale(0.96 1)" font-size="32.5" text-anchor="start" font-family='"Liberation Serif", serif' >LiCl</text>
<text transform="translate(1206.30 274.50) scale(1.042 1)" font-size="30" text-anchor="start" font-weight="600" font-family='"Liberation Serif", "Noto Serif CJK SC", serif' >溶液</text>
<text transform="translate(1148.70 348.90) scale(0.96 1)" font-size="32.5" text-anchor="start" font-family='"Liberation Serif", serif' >LiCl</text>
<text transform="translate(1206.30 349.80) scale(1.042 1)" font-size="30" text-anchor="start" font-weight="600" font-family='"Liberation Serif", "Noto Serif CJK SC", serif' >溶液</text>
<text transform="translate(1148.60 237.30) scale(1.042 1)" font-size="30" text-anchor="start" font-weight="600" font-family='"Liberation Serif", "Noto Serif CJK SC", serif' >混合溶液</text>
<text transform="translate(1148.60 312.60) scale(1.042 1)" font-size="30" text-anchor="start" font-weight="600" font-family='"Liberation Serif", "Noto Serif CJK SC", serif' >混合溶液</text>
<text transform="translate(1148.60 387.20) scale(1.042 1)" font-size="30" text-anchor="start" font-weight="600" font-family='"Liberation Serif", "Noto Serif CJK SC", serif' >混合溶液</text>
</svg>
</body>
</html>
